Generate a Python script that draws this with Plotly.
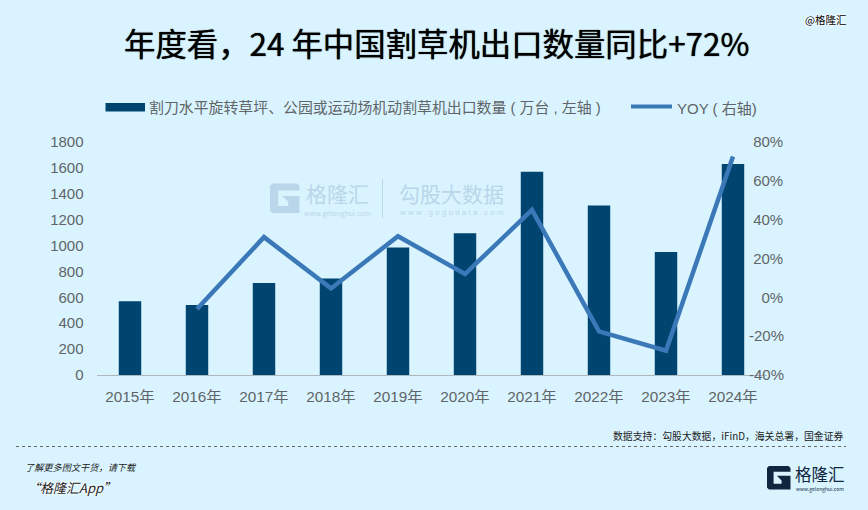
import plotly.graph_objects as go

W, H = 868, 510
years = ["2015年", "2016年", "2017年", "2018年", "2019年", "2020年", "2021年", "2022年", "2023年", "2024年"]
exports = [570, 540, 710, 745, 985, 1095, 1570, 1310, 950, 1630]
yoy = [None, -6, 31, 4.6, 31.5, 12, 45, -17.5, -27.5, 72.5]
left_ticks = [0, 200, 400, 600, 800, 1000, 1200, 1400, 1600, 1800]
right_ticks = [-40, -20, 0, 20, 40, 60, 80]
right_labels = ["-40%", "-20%", "\u00a0\u00a0\u00a00%", "\u00a020%", "\u00a040%", "\u00a060%", "\u00a080%"]
title = "年度看，24 年中国割草机出口数量同比+72%"
bar_name = "割刀水平旋转草坪、公园或运动场机动割草机出口数量 ( 万台 , 左轴 )"
line_name = "YOY ( 右轴)"
source = "数据支持：勾股大数据，iFinD，海关总署，国金证券"

BG = "#D9F4FF"
BAR = "#004470"
LINE = "#3B78B8"
TXT = "#5F6568"
WM = "#B9D6EA"
FONT = "Liberation Sans, Noto Sans CJK SC, sans-serif"
CJK = "Noto Sans CJK SC, sans-serif"
HALO = "0 0 3px #fff, 0 0 3px #fff, 0 0 3px #fff"


def px(x):
    return x / W


def py(y):
    return 1 - y / H


def note(text, x, y, size, color=TXT, anchor="center", family=CJK, shadow=None):
    font = dict(size=size, color=color, family=family)
    if shadow:
        font["shadow"] = shadow
    return dict(text=text, x=px(x), y=py(y), xref="paper", yref="paper", xanchor=anchor,
                yanchor="middle", showarrow=False, font=font)


def logo_path(x0, y0, s):
    """G-shaped logo in page pixels, s = side length."""
    def p(a, b):
        return f"{px(x0 + a * s):.5f},{py(y0 + b * s):.5f}"
    return ("M" + p(.08, 0) + " L" + p(.92, 0) + " L" + p(1, .08) + " L" + p(1, .24) + " L" + p(.28, .24)
            + " L" + p(.28, .76) + " L" + p(.62, .76) + " L" + p(.62, .62) + " L" + p(.42, .42) + " L" + p(1, .42)
            + " L" + p(1, 1) + " L" + p(.08, 1) + " L" + p(0, .92) + " L" + p(0, .08) + " Z")


fig = go.Figure()
fig.add_bar(x=years, y=exports, name=bar_name, marker=dict(color=BAR, line_width=0),
            yaxis="y", showlegend=False)
fig.add_scatter(x=years, y=yoy, name=line_name, mode="lines", line=dict(color=LINE, width=4.5),
                yaxis="y2", showlegend=False)

shapes = [
    dict(type="rect", x0=px(105.5), x1=px(145), y0=py(103), y1=py(111.5), xref="paper", yref="paper",
         fillcolor=BAR, line_width=0),
    dict(type="line", x0=px(631), x1=px(672), y0=py(106.5), y1=py(106.5), xref="paper", yref="paper",
         line=dict(color=LINE, width=4)),
    dict(type="line", x0=px(16), x1=px(846), y0=py(446.5), y1=py(446.5), xref="paper", yref="paper",
         line=dict(color="#666666", width=1, dash="dot")),
    dict(type="path", path=logo_path(270, 183.5, 29.5), xref="paper", yref="paper", fillcolor=WM, line_width=0,
         layer="below"),
    dict(type="line", x0=px(382.5), x1=px(382.5), y0=py(179), y1=py(218), xref="paper", yref="paper",
         line=dict(color=WM, width=1), layer="below"),
    dict(type="path", path=logo_path(767, 466, 23.5), xref="paper", yref="paper", fillcolor="#10263F", line_width=0),
]

annotations = [
    note(title, 436.5, 42, 31.4, "#000000", shadow="0 0 1px #000"),
    note("@格隆汇", 825, 20, 10.5, "#000000", shadow=HALO),
    note(bar_name, 146.5, 108, 14.9, TXT, "left", FONT),
    note(line_name, 675, 108, 15, TXT, "left", FONT),
    note("格隆汇", 337.5, 192.5, 21, WM),
    note("www.gelonghui.com", 337.5, 213, 7, WM),
    note("勾股大数据", 451.5, 192.5, 21, WM),
    note("w w w . g o g u d a t a . c o m", 452, 212.5, 8, WM, family=FONT),
    note(source, 846, 436, 9.85, "#222222", "right"),
    note("<i>了解更多图文干货，请下载</i>", 23, 467, 9.2, "#222222", "left"),
    note("<i>“格隆汇App”</i>", 25, 487, 13, "#222222", "left", shadow=HALO),
    note("格隆汇", 820, 473.5, 16.5, "#10263F"),
    note("www.gelonghui.com", 820, 489, 5, "#10263F"),
]

fig.update_layout(
    width=W, height=H, autosize=False,
    margin=dict(l=0, r=0, t=0, b=0, pad=0),
    paper_bgcolor=BG, plot_bgcolor="rgba(0,0,0,0)",
    bargap=0.665, showlegend=False,
    font=dict(family=FONT, color=TXT, size=15),
    shapes=shapes, annotations=annotations,
    xaxis=dict(domain=[px(96.5), px(766.5)], showgrid=False, showline=True, linecolor="#AEB9BF", linewidth=1,
               ticks="", tickfont=dict(size=15.3, color=TXT), anchor="y", type="category",
               ticklabelstandoff=8, automargin=False),
    yaxis=dict(domain=[py(375), py(142)], range=[0, 1800], tickvals=left_ticks, showgrid=False, zeroline=False,
               ticks="", showline=False, tickfont=dict(size=15, color=TXT), ticklabelstandoff=12, automargin=False),
    yaxis2=dict(domain=[py(375), py(142)], range=[-40, 80], tickvals=right_ticks, ticktext=right_labels,
                overlaying="y", side="right", anchor="free", position=px(748), showgrid=False, zeroline=False,
                ticks="", showline=False, tickfont=dict(size=15, color=TXT), automargin=False),
)

fig.write_html("out.html", config={"displayModeBar": False},
               post_script="document.body.style.margin='0';document.body.style.background='" + BG + "';")
